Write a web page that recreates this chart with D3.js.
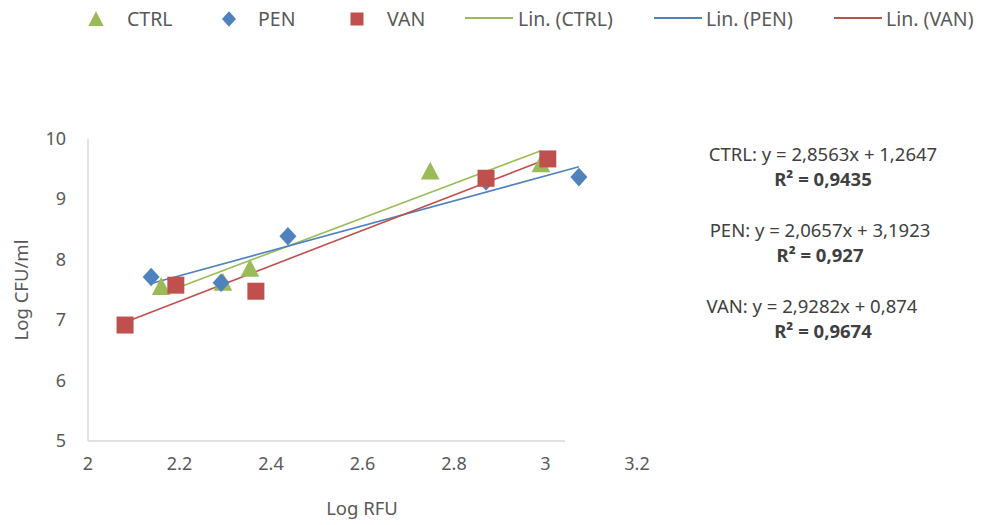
<!DOCTYPE html>
<html><head><meta charset="utf-8">
<script src="https://cdn.jsdelivr.net/npm/d3@7"></script>
<style>body{margin:0;background:#fff}svg{display:block;font-family:"Noto Sans",sans-serif}</style>
</head><body><svg id="c" width="988" height="525"></svg>
<script>
const seriesNames = ["CTRL","PEN","VAN"];
const colors = ["#9BBB59","#4F81BD","#C0504D"];
const ctrlX = [2.16, 2.295, 2.354, 2.748, 2.99];
const ctrlY = [7.56, 7.63, 7.86, 9.47, 9.59];
const penX = [2.138, 2.291, 2.437, 2.87, 3.073];
const penY = [7.715, 7.62, 8.39, 9.30, 9.37];
const vanX = [2.081, 2.192, 2.367, 2.870, 3.005];
const vanY = [6.92, 7.58, 7.48, 9.35, 9.67];
const slopes = [2.8563, 2.0657, 2.9282];
const intercepts = [1.2647, 3.1923, 0.874];
const eqLabels = ["CTRL: y = 2,8563x + 1,2647","PEN: y = 2,0657x + 3,1923","VAN: y = 2,9282x + 0,874"];
const r2Labels = ["R² = 0,9435","R² = 0,927","R² = 0,9674"];
const xTicks = [2, 2.2, 2.4, 2.6, 2.8, 3, 3.2];
const yTicks = [5, 6, 7, 8, 9, 10];
const legendLabels = ["CTRL","PEN","VAN","Lin. (CTRL)","Lin. (PEN)","Lin. (VAN)"];

const svg = d3.select("#c");
const x = d3.scaleLinear().domain([2, 3.2]).range([88, 637]);
const y = d3.scaleLinear().domain([5, 10]).range([441, 139]);

// axis lines
svg.append("line").attr("x1",88).attr("x2",88).attr("y1",y(10)).attr("y2",y(5)).attr("stroke","#d9d9d9").attr("stroke-width",1.5);
svg.append("line").attr("x1",88).attr("x2",565).attr("y1",y(5)).attr("y2",y(5)).attr("stroke","#d9d9d9").attr("stroke-width",1.5);

// tick labels
svg.append("g").selectAll("text").data(xTicks).join("text")
  .attr("x",d=>x(d)).attr("y",470).attr("text-anchor","middle")
  .attr("font-size",18).attr("fill","#595959").text(d=>d3.format("")(d));
svg.append("g").selectAll("text").data(yTicks).join("text")
  .attr("x",66).attr("y",d=>y(d)+6).attr("text-anchor","end")
  .attr("font-size",18).attr("fill","#595959").text(d=>d);

// axis titles
svg.append("text").attr("x",362).attr("y",515).attr("text-anchor","middle").attr("font-size",18.5).attr("fill","#595959").text("Log RFU");
svg.append("text").attr("transform","translate(28,290) rotate(-90)").attr("text-anchor","middle").attr("font-size",18.5).attr("fill","#595959").text("Log CFU/ml");

const data = [[ctrlX,ctrlY],[penX,penY],[vanX,vanY]];
// trendlines
data.forEach((s,i)=>{
  const [xmin,xmax] = d3.extent(s[0]);
  svg.append("line").attr("x1",x(xmin)).attr("y1",y(slopes[i]*xmin+intercepts[i]))
    .attr("x2",x(xmax)).attr("y2",y(slopes[i]*xmax+intercepts[i]))
    .attr("stroke",colors[i]).attr("stroke-width",1.6);
});

function marker(g, type, cx, cy, color, s){
  if(type===0){
    g.append("path").attr("d",`M${cx},${cy-s*0.55} L${cx+s*0.55},${cy+s*0.5} L${cx-s*0.55},${cy+s*0.5} Z`).attr("fill",color);
  } else if(type===1){
    g.append("path").attr("d",`M${cx},${cy-s*0.55} L${cx+s*0.5},${cy} L${cx},${cy+s*0.55} L${cx-s*0.5},${cy} Z`).attr("fill",color);
  } else {
    g.append("rect").attr("x",cx-s/2).attr("y",cy-s/2).attr("width",s).attr("height",s).attr("fill",color);
  }
}
const mg = svg.append("g");
data.forEach((s,i)=>{
  s[0].forEach((xv,j)=>marker(mg,i,x(xv),y(s[1][j]),colors[i],17));
});

// legend
const lg = svg.append("g").attr("font-size",19.5).attr("fill","#595959");
const mPos = [96,229,357];
const tPos = [127,258,387];
for(let i=0;i<3;i++){
  marker(lg,i,mPos[i],19,colors[i],i===2?13:14);
  lg.append("text").attr("x",tPos[i]).attr("y",26).attr("fill","#595959").text(legendLabels[i]);
}
const lPos = [[465,513,518],[654,702,706],[834,882,886]];
for(let i=0;i<3;i++){
  lg.append("line").attr("x1",lPos[i][0]).attr("x2",lPos[i][1]).attr("y1",18).attr("y2",18).attr("stroke",colors[i]).attr("stroke-width",2);
  lg.append("text").attr("x",lPos[i][2]).attr("y",26).attr("fill","#595959").text(legendLabels[i+3]);
}

// equations
const eqX = [823,820,812];
const eqY = [161,237,313];
for(let i=0;i<3;i++){
  svg.append("text").attr("x",eqX[i]).attr("y",eqY[i]).attr("text-anchor","middle").attr("font-size",18.5).attr("fill","#404040").text(eqLabels[i]);
  svg.append("text").attr("x",823 - (i===1?3:0)).attr("y",eqY[i]+25).attr("text-anchor","middle").attr("font-size",18.5).attr("font-weight","bold").attr("fill","#404040").text(r2Labels[i]);
}
</script></body></html>
